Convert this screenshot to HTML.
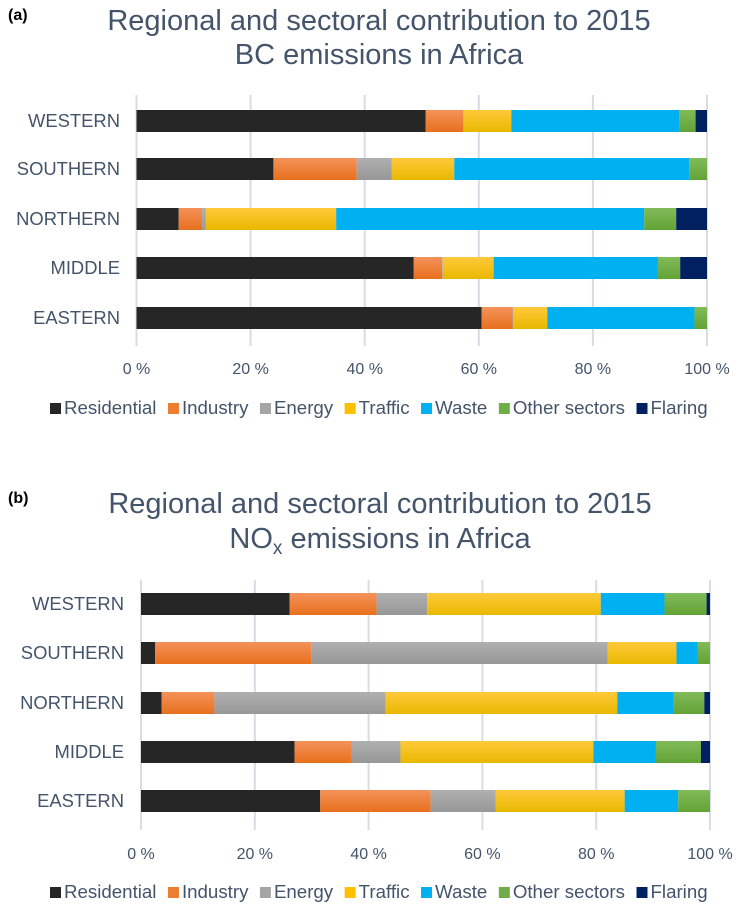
<!DOCTYPE html>
<html><head><meta charset="utf-8">
<style>
body{margin:0;background:#fff;width:741px;height:912px;overflow:hidden;font-family:"Liberation Sans",sans-serif;}
svg text{font-family:"Liberation Sans",sans-serif;}
</style></head>
<body>
<svg id="svg" width="741" height="912" xmlns="http://www.w3.org/2000/svg">
<defs>
<linearGradient id="g1" x1="0" y1="0" x2="0" y2="1"><stop offset="0" stop-color="#f4925a"/><stop offset="1" stop-color="#e8701c"/></linearGradient>
<linearGradient id="g2" x1="0" y1="0" x2="0" y2="1"><stop offset="0" stop-color="#b0b0b0"/><stop offset="1" stop-color="#979797"/></linearGradient>
<linearGradient id="g3" x1="0" y1="0" x2="0" y2="1"><stop offset="0" stop-color="#ffc93a"/><stop offset="1" stop-color="#e9b800"/></linearGradient>
<linearGradient id="g5" x1="0" y1="0" x2="0" y2="1"><stop offset="0" stop-color="#82bb5a"/><stop offset="1" stop-color="#62a335"/></linearGradient>
</defs>
<text x="8" y="20" font-family="Liberation Serif" font-weight="bold" font-size="16" fill="#000">(a)</text>
<text x="8" y="503" font-family="Liberation Serif" font-weight="bold" font-size="16" fill="#000">(b)</text>
<text x="379" y="30" text-anchor="middle" font-size="29" fill="#44546a">Regional and sectoral contribution to 2015</text>
<text x="379" y="64" text-anchor="middle" font-size="29" fill="#44546a">BC emissions in Africa</text>
<text x="380" y="513" text-anchor="middle" font-size="29" fill="#44546a">Regional and sectoral contribution to 2015</text>
<text x="380" y="548" text-anchor="middle" font-size="29" fill="#44546a">NO<tspan font-size="19" dy="6">x</tspan><tspan dy="-6"> emissions in Africa</tspan></text>
</svg>
<script>
const categories=["WESTERN","SOUTHERN","NORTHERN","MIDDLE","EASTERN"];
const sectors=["Residential","Industry","Energy","Traffic","Waste","Other sectors","Flaring"];
const ticks=["0 %","20 %","40 %","60 %","80 %","100 %"];
const bcResidential=[50.7,24.0,7.4,48.6,60.5];
const bcIndustry=[6.6,14.6,4.1,5.0,5.4];
const bcEnergy=[0,6.1,0.6,0.1,0.1];
const bcTraffic=[8.4,11.0,22.9,8.9,6.0];
const bcWaste=[29.4,41.2,54.0,28.8,25.8];
const bcOther=[2.9,3.1,5.6,3.9,2.2];
const bcFlaring=[2.0,0,5.4,4.7,0];
const noxResidential=[26.1,2.5,3.6,27.0,31.5];
const noxIndustry=[15.3,27.5,9.3,10.0,19.4];
const noxEnergy=[8.9,52.0,30.1,8.6,11.4];
const noxTraffic=[30.5,12.1,40.7,33.9,22.7];
const noxWaste=[11.2,3.7,9.9,11.0,9.4];
const noxOther=[7.4,2.2,5.4,7.9,5.6];
const noxFlaring=[0.6,0,1.0,1.6,0];
const fills=["#262626","url(#g1)","url(#g2)","url(#g3)","#00b0f0","url(#g5)","#002060"];
const legendFills=["#262626","#ed7d31","#a5a5a5","#ffc000","#00b0f0","#70ad47","#002060"];
const NS="http://www.w3.org/2000/svg";
const svg=document.getElementById('svg');
function mk(t,a){const e=document.createElementNS(NS,t);for(const k in a)e.setAttribute(k,a[k]);svg.appendChild(e);return e;}
function chart(id,series,x0,x1,rowY,gTop,gBot,tickY,legY,labX,legX){
  const xs=v=>x0+(x1-x0)*v/100;
  for(let i=0;i<ticks.length;i++){
    const v=i*20;
    const l=mk('line',{x1:xs(v),x2:xs(v),y1:gTop,y2:gBot,stroke:'#d9dde3','stroke-width':2});
    
    
    const t=mk('text',{x:xs(v),y:tickY,'text-anchor':'middle','font-size':16,fill:'#44546a'});
    t.textContent=ticks[i];
    
    
  }
  categories.forEach((c,ci)=>{
    const y=rowY[ci];
    const t=mk('text',{x:labX,y:y+6,'text-anchor':'end','font-size':18.4,fill:'#44546a'});
    t.textContent=c;
    
    
    let acc=0;
    series.forEach((s,si)=>{
      const v=s[ci];
      if(v>0){
        const r=mk('rect',{x:xs(acc),y:y-11,width:xs(acc+v)-xs(acc),height:22,fill:fills[si]});
        
        
      }
      acc+=v;
    });
  });
  let lx=legX;
  sectors.forEach((s,si)=>{
    const r=mk('rect',{x:lx,y:legY-11,width:11,height:11,fill:legendFills[si]});
    
    
    const t=mk('text',{x:lx+14,y:legY,'font-size':18.7,fill:'#44546a'});
    t.textContent=s;
    
    
    lx+=14+t.getComputedTextLength()+11.5;
  });
}
chart('chart-a',[bcResidential,bcIndustry,bcEnergy,bcTraffic,bcWaste,bcOther,bcFlaring],136.5,707,[121,169,219,268,318],95,346,374,414,120,50);
chart('chart-b',[noxResidential,noxIndustry,noxEnergy,noxTraffic,noxWaste,noxOther,noxFlaring],141,710,[604,653,703,752,801],580,830,859,898,124,50);
</script>
</body></html>
